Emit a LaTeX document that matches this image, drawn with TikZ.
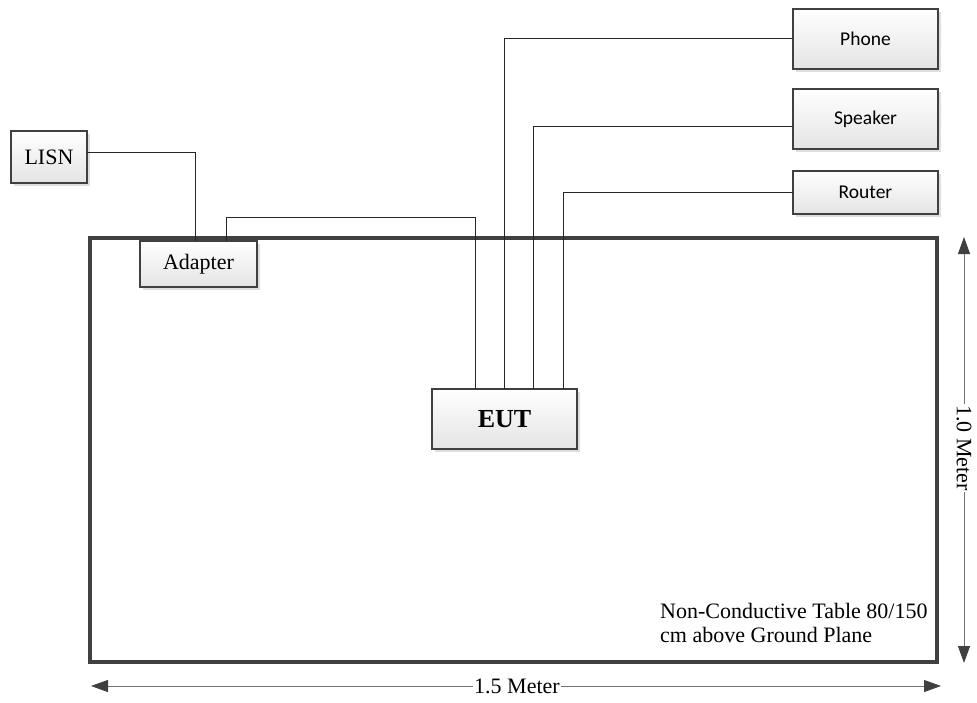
\documentclass[tikz,border=0pt]{standalone}
\usepackage{fontspec}
\setmainfont{Liberation Serif}
\newfontfamily\calfont{Carlito}
\usetikzlibrary{arrows.meta,shadows}
\definecolor{edge}{HTML}{404040}
\definecolor{boxbot}{HTML}{E4E4E4}
\tikzset{
  devbox/.style={draw=edge, line width=2pt, top color=white, bottom color=boxbot,
    inner sep=0pt, outer sep=0pt,
    drop shadow={shadow xshift=2.5pt, shadow yshift=-2.5pt, fill=black!25, opacity=0.5}},
  serifbox/.style={devbox, font=\fontsize{22}{24}\selectfont},
  calbox/.style={devbox, font=\calfont\fontsize{19.5}{22}\selectfont},
  tablebox/.style={draw=edge, line width=3.5pt, fill=white, inner sep=0pt, outer sep=0pt},
  wire/.style={draw=black!85, line width=1pt},
  dim/.style={draw=black!55, line width=1pt,
    {Triangle[length=17pt,width=12pt,color=edge,fill=edge]}-{Triangle[length=17pt,width=12pt,color=edge,fill=edge]}},
  dimlabel/.style={fill=white, inner sep=1pt, font=\fontsize{22}{24}\selectfont}
}
\begin{document}
\begin{tikzpicture}[x=1pt,y=-1pt]
\useasboundingbox (0,0) rectangle (977,702);
% table
\node[tablebox, minimum width=847pt, minimum height=424pt] (table) at (513.5,450) {};
% devices
\node[serifbox, minimum width=76pt, minimum height=52pt] (lisn) at (49,157) {LISN};
\node[serifbox, minimum width=117pt, minimum height=46pt] (adapter) at (198.5,264) {Adapter};
\node[devbox, minimum width=145pt, minimum height=60pt, font=\bfseries\fontsize{26}{28}\selectfont] (eut) at (504.5,419) {EUT};
\node[calbox, minimum width=145pt, minimum height=60pt] (phone) at (865.5,39) {Phone};
\node[calbox, minimum width=145pt, minimum height=60pt] (speaker) at (865.5,119) {Speaker};
\node[calbox, minimum width=145pt, minimum height=43pt] (router) at (865.5,192.5) {Router};
% wires
\draw[wire] ([yshift=5pt]lisn.east) -| ([xshift=-3.5pt]adapter.north);
\draw[wire] ([xshift=27.5pt]adapter.north) -- ++(0,-24) -| ([xshift=-29.5pt]eut.north);
\draw[wire] ([xshift=-0.5pt]eut.north) |- ([yshift=1pt]phone.west);
\draw[wire] ([xshift=28.5pt]eut.north) |- ([yshift=-7pt]speaker.west);
\draw[wire] ([xshift=58.5pt]eut.north) |- (router.west);
% note
\node[anchor=north west, align=left, inner sep=0pt, font=\fontsize{22}{24}\selectfont] (note) at (660,603)
  {Non-Conductive Table 80/150\\cm above Ground Plane};
% dimensions
\coordinate (hl) at (91,686);
\coordinate (hr) at (941,686);
\coordinate (vt) at (964,237);
\coordinate (vb) at (964,663);
\draw[dim] (hl) -- (hr);
\node[dimlabel] (hlab) at (517,686) {1.5 Meter};
\draw[dim] (vt) -- (vb);
\node[dimlabel, rotate=-90] (vlab) at (964,448) {1.0 Meter};
\end{tikzpicture}
\end{document}
